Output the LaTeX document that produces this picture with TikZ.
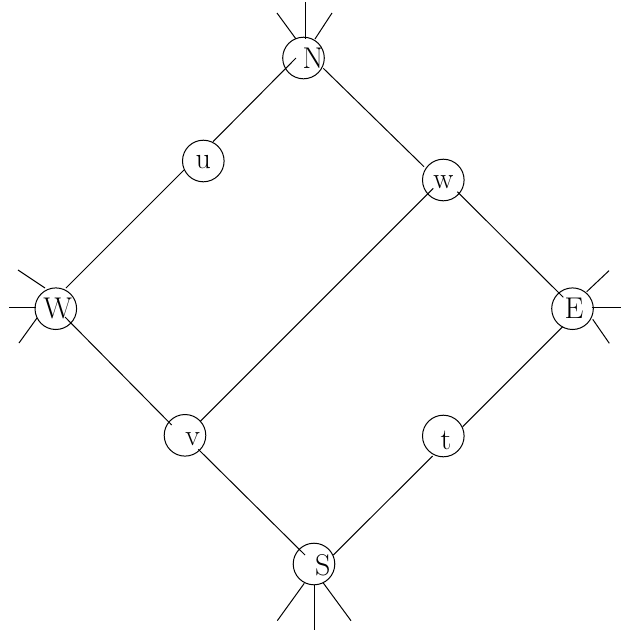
\documentclass[tikz,border=0pt]{standalone}
\usepackage{fontspec}
\usetikzlibrary{calc}
\begin{document}
\begin{tikzpicture}[x=0.5pt,y=-0.5pt,line width=0.5pt,
  vtx/.style={circle,draw,minimum size=20.8pt,inner sep=0pt},
  lbl/.style={inner sep=0pt,font=\fontsize{15pt}{18pt}\selectfont}]
\useasboundingbox (0,0) rectangle (621,633);
% vertices
\node[vtx] (N) at (303.5,58) {};
\node[vtx] (u) at (203.3,161) {};
\node[vtx] (w) at (443.3,180) {};
\node[vtx] (W) at (55.8,308.7) {};
\node[vtx] (E) at (572.5,308.7) {};
\node[vtx] (v) at (185,435.3) {};
\node[vtx] (t) at (443.3,436) {};
\node[vtx] (S) at (314,564) {};
% labels
\node[lbl] (Nl) at ($(N)+(9.5,0)$) {N};
\node[lbl] (ul) at ($(u)+(0,1.5)$) {u};
\node[lbl] (wl) at ($(w)+(0,1.7)$) {w};
\node[lbl] (Wl) at ($(W)+(2,0)$) {W};
\node[lbl] (El) at ($(E)+(1.5,0)$) {E};
\node[lbl] (vl) at ($(v)+(7.7,4)$) {v};
\node[lbl] (tl) at ($(t)+(2.7,4)$) {t};
\node[lbl] (Sl) at ($(S)+(8.7,1.7)$) {S};
% edges
\draw ($(N)+(-7.5,0)$) -- ($(u)+(9.7,-19.3)$);
\draw ($(u)+(-19.3,9)$) -- ($(W)+(10.2,-20.7)$);
\draw ($(N)+(19.8,10.3)$) -- ($(w)+(-19.3,-13.3)$);
\draw ($(w)+(14,11.7)$) -- ($(E)+(-9.2,-11.4)$);
\draw ($(W)+(9.2,8.3)$) -- ($(v)+(-13.3,-10.3)$);
\draw ($(v)+(15,-13.6)$) -- ($(w)+(-10,8.3)$);
\draw ($(v)+(13.3,14)$) -- ($(S)+(-9,-9)$);
\draw ($(S)+(19.3,-9)$) -- ($(t)+(-10.6,20)$);
\draw ($(t)+(19.4,-9.3)$) -- ($(E)+(-9.8,18)$);
% stubs at N
\draw ($(N)+(1.5,-56)$) -- ($(N)+(1.5,-19)$);
\draw ($(N)+(-26.5,-45)$) -- ($(N)+(-7.5,-19)$);
\draw ($(N)+(28.5,-45)$) -- ($(N)+(11.5,-19)$);
% stubs at W
\draw ($(W)+(-46.8,-1)$) -- ($(W)+(-19.8,-1)$);
\draw ($(W)+(-37.8,-38.7)$) -- ($(W)+(-10.8,-20.7)$);
\draw ($(W)+(-36.8,34.3)$) -- ($(W)+(-18.8,9.3)$);
% stubs at E
\draw ($(E)+(19.2,-1.4)$) -- ($(E)+(48.5,-1.4)$);
\draw ($(E)+(14.2,-17)$) -- ($(E)+(36.5,-38)$);
\draw ($(E)+(20.2,10.6)$) -- ($(E)+(36.8,34.6)$);
% stubs at S
\draw ($(S)+(0.3,21)$) -- ($(S)+(0.3,66)$);
\draw ($(S)+(-36.7,56.7)$) -- ($(S)+(-9.7,19.3)$);
\draw ($(S)+(9.3,19)$) -- ($(S)+(37,56.7)$);
\end{tikzpicture}
\end{document}
